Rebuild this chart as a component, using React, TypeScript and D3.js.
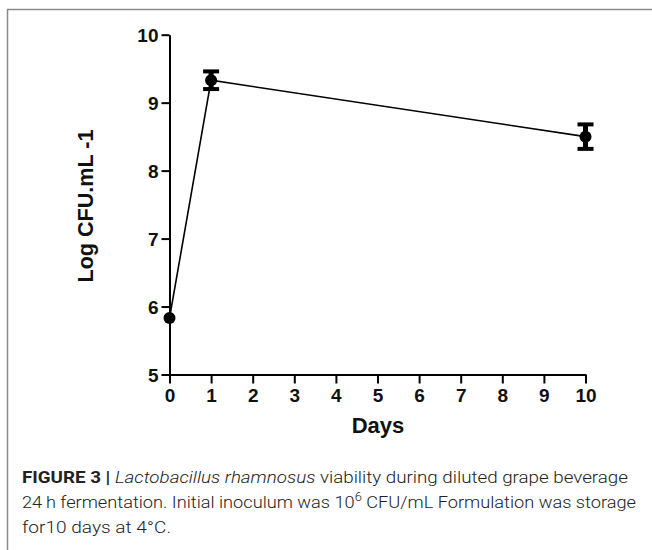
import React, { useRef, useEffect } from 'react';
import * as d3 from 'd3';

// viability data
const days = [0, 1, 10];
const logCfu = [5.83, 9.33, 8.5];
const sdCfu = [0.04, 0.13, 0.18];
const xTicks = [0, 1, 2, 3, 4, 5, 6, 7, 8, 9, 10];
const yTicks = [5, 6, 7, 8, 9, 10];

const W = 652;
const H = 550;

export default function App() {
  const ref = useRef<SVGSVGElement>(null);

  useEffect(() => {
    const svg = d3.select(ref.current);
    svg.selectAll('*').remove();

    // panel frame (top + left border of the figure box)
    svg.append('path')
      .attr('d', `M7.5,${H} L7.5,9.5 L${W},9.5`)
      .attr('fill', 'none')
      .attr('stroke', '#8a8a8a')
      .attr('stroke-width', 1.5);

    const x = d3.scaleLinear().domain([0, 10]).range([169.5, 585.5]);
    const y = d3.scaleLinear().domain([5, 10]).range([374.5, 34.7]);

    const font = 'Arial, "Liberation Sans", sans-serif';

    // x axis
    const gx = svg.append('g').attr('transform', `translate(0,${y(5)})`);
    gx.call(d3.axisBottom(x).tickValues(xTicks).tickFormat(d3.format('d')).tickSize(9).tickSizeOuter(0).tickPadding(5));
    // y axis
    const gy = svg.append('g').attr('transform', `translate(${x(0)},0)`);
    gy.call(d3.axisLeft(y).tickValues(yTicks).tickFormat(d3.format('d')).tickSize(8).tickSizeOuter(0).tickPadding(3));

    [gx, gy].forEach(g => {
      g.select('.domain').attr('stroke', '#000').attr('stroke-width', 2);
      g.selectAll('.tick line').attr('stroke', '#000').attr('stroke-width', 2);
      g.selectAll('.tick text')
        .attr('fill', '#111')
        .style('font-family', font)
        .style('font-weight', 'bold')
        .style('font-size', '19px');
    });
    gy.selectAll('.tick text').attr('dy', '0.36em');
    gx.selectAll('.tick text').attr('dy', '0.72em');

    // axis titles
    svg.append('text')
      .attr('x', 378)
      .attr('y', 433)
      .attr('text-anchor', 'middle')
      .style('font-family', font)
      .style('font-weight', 'bold')
      .style('font-size', '22px')
      .attr('fill', '#111')
      .text('Days');

    svg.append('text')
      .attr('transform', `translate(93,206) rotate(-90)`)
      .attr('text-anchor', 'middle')
      .attr('textLength', 153)
      .attr('lengthAdjust', 'spacingAndGlyphs')
      .style('font-family', font)
      .style('font-weight', 'bold')
      .style('font-size', '22px')
      .attr('fill', '#111')
      .text('Log CFU.mL -1');

    const pts = days.map((d, i) => ({ d, v: logCfu[i], e: sdCfu[i] }));

    // connecting line
    const line = d3.line<{ d: number; v: number }>()
      .x(p => x(p.d))
      .y(p => y(p.v));
    svg.append('path')
      .datum(pts)
      .attr('d', line)
      .attr('fill', 'none')
      .attr('stroke', '#000')
      .attr('stroke-width', 1.6);

    // error bars (hidden when shorter than the symbol, like Prism does)
    const r = 6;
    const eb = svg.append('g').selectAll('g').data(pts).enter().append('g');
    const bars = eb.filter(p => y(p.v - p.e) - y(p.v + p.e) > 2 * r);
    bars.append('line')
      .attr('x1', p => x(p.d)).attr('x2', p => x(p.d))
      .attr('y1', p => y(p.v + p.e)).attr('y2', p => y(p.v - p.e))
      .attr('stroke', '#000').attr('stroke-width', 5);
    bars.append('line')
      .attr('x1', p => x(p.d) - 8).attr('x2', p => x(p.d) + 8)
      .attr('y1', p => y(p.v + p.e)).attr('y2', p => y(p.v + p.e))
      .attr('stroke', '#000').attr('stroke-width', 4);
    bars.append('line')
      .attr('x1', p => x(p.d) - 8).attr('x2', p => x(p.d) + 8)
      .attr('y1', p => y(p.v - p.e)).attr('y2', p => y(p.v - p.e))
      .attr('stroke', '#000').attr('stroke-width', 4);
    eb.append('circle')
      .attr('cx', p => x(p.d))
      .attr('cy', p => y(p.v))
      .attr('r', r)
      .attr('fill', '#000');

    // caption
    const cap = svg.append('g')
      .style('font-family', '"Roboto", "Liberation Sans", sans-serif')
      .style('font-size', '17px')
      .attr('fill', '#222');

    const l1 = cap.append('text').attr('x', 22).attr('y', 483)
      .attr('textLength', 606).attr('lengthAdjust', 'spacingAndGlyphs');
    l1.append('tspan').style('font-weight', 'bold').text('FIGURE 3 | ');
    l1.append('tspan').style('font-style', 'italic').style('font-weight', 300).text('Lactobacillus rhamnosus');
    l1.append('tspan').style('font-weight', 300).text(' viability during diluted grape beverage');

    const l2 = cap.append('text').attr('x', 22).attr('y', 508)
      .attr('textLength', 614).attr('lengthAdjust', 'spacingAndGlyphs')
      .style('font-weight', 300);
    l2.append('tspan').text('24\u2009h fermentation. Initial inoculum was 10');
    l2.append('tspan').attr('dy', -7).style('font-size', '12px').text('6');
    l2.append('tspan').attr('dy', 7).text(' CFU/mL Formulation was storage');

    cap.append('text').attr('x', 22).attr('y', 533)
      .attr('textLength', 149).attr('lengthAdjust', 'spacingAndGlyphs')
      .style('font-weight', 300)
      .text('for10 days at 4°C.');
  }, []);

  return (
    <svg
      ref={ref}
      width={W}
      height={H}
      style={{ position: 'absolute', left: 0, top: 0, background: '#fff' }}
    />
  );
}
